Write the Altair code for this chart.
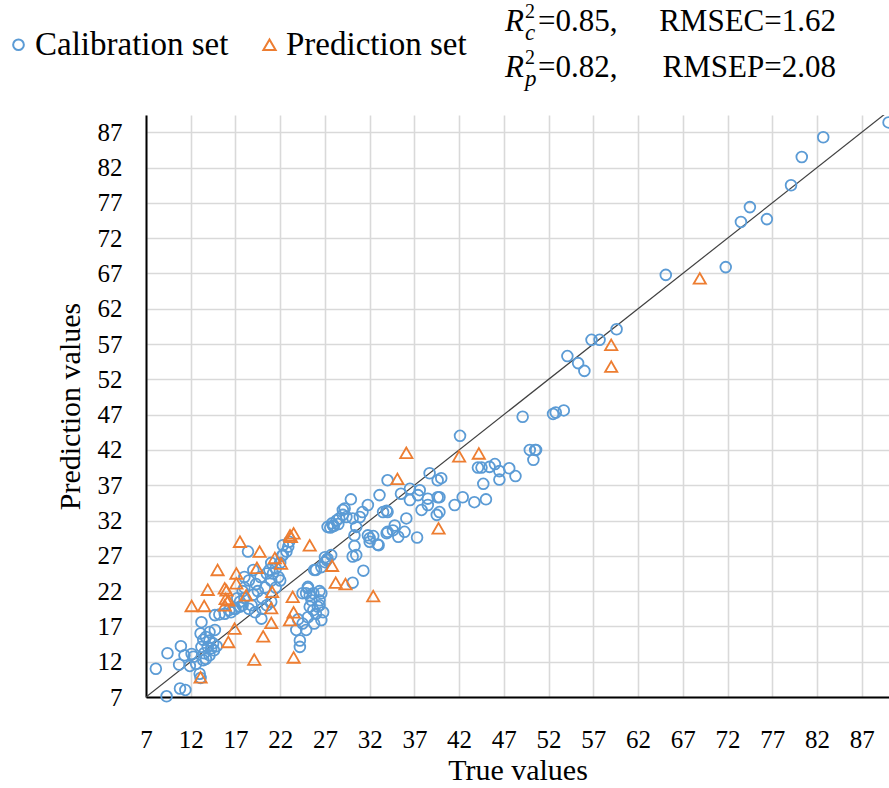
import altair as alt
import pandas as pd

# ---- data ----
cal_x = [90.0, 82.7, 80.3, 79.1, 76.4, 74.5, 73.5, 71.8, 65.1, 59.6, 57.7, 56.8, 54.1, 55.3, 56.0, 53.7, 52.8, 52.5,
         49.1, 42.1, 49.9, 50.5, 50.6, 50.3,
         44.1, 44.5, 45.4, 46.0, 46.5, 46.5, 47.6, 48.3, 44.7,
         42.4, 41.5, 43.7, 45.0, 40.0, 39.8, 39.8,
         38.7, 39.6, 35.5, 36.5, 37.6, 38.5, 39.6, 36.5, 37.4, 37.8, 38.5, 39.5, 36.1, 37.3,
         34.0, 33.1, 29.9,
         34.0, 34.6, 35.2, 35.9, 34.8,
         33.5, 33.9, 34.0,
         31.8, 31.2, 30.9, 30.1, 29.4, 29.0, 28.6,
         30.5, 30.3, 30.3, 30.1, 30.5, 31.3, 30.1,
         31.8, 32.4, 32.0, 33.0, 33.9,
         29.0, 29.2, 28.3, 27.9, 27.3, 27.6, 28.0, 28.5, 27.8,
         32.0, 32.9,
         25.8, 26.6, 27.0, 27.3, 27.7, 27.2, 27.0, 26.0,
         25.1, 26.4, 24.5,
         23.8, 24.2, 24.2, 24.5, 24.9, 25.1, 25.3, 25.5, 25.7, 25.8, 26.0, 26.2, 26.4, 26.6, 26.6, 25.1, 24.9, 25.3,
         26.4, 25.7, 24.0, 26.8,
         22.3, 22.9, 22.7, 22.3, 18.4, 23.0,
         16.5, 17.0, 17.5, 18.0, 18.0, 18.5, 18.8, 19.0, 19.3, 19.5, 19.8, 20.0, 20.3, 20.5, 20.8, 21.0, 21.2, 21.5,
         21.8, 22.0, 22.2, 20.0, 19.2, 18.5, 17.8, 17.2, 21.0, 21.5, 22.0, 20.5, 19.9, 18.0, 19.0, 21.0,
         14.7, 15.2, 15.8, 16.3, 16.9, 17.5, 17.8,
         8.1, 9.3, 9.4, 10.8, 11.4, 10.9, 10.7, 11.3, 12.1, 11.9, 12.6, 12.3, 13.0, 13.1,
         13.2, 13.1, 13.4, 13.7, 14.1, 14.7, 14.1, 13.9, 14.3, 14.5, 13.2, 13.5, 13.7, 13.4, 14.1, 14.6, 14.9]
cal_y = [88.4, 86.3, 83.5, 79.5, 74.7, 76.4, 74.3, 67.9, 66.8, 59.1, 57.6, 57.6, 55.3, 54.3, 53.2, 47.6, 47.3, 47.1,
         46.7, 44.0, 42.0, 42.0, 42.0, 40.6,
         39.5, 39.5, 39.6, 40.0, 39.0, 37.8, 39.4, 38.3, 37.2,
         35.3, 34.2, 34.6, 35.0, 38.0, 35.3, 33.2,
         38.7, 37.7, 35.8, 36.5, 36.3, 35.1, 35.3, 34.9, 35.6, 33.5, 34.2, 32.8, 32.3, 29.6,
         37.7, 35.6, 35.0,
         30.4, 30.6, 29.7, 30.4, 31.3,
         33.2, 33.4, 33.2,
         34.2, 33.2, 32.5, 32.3, 32.5, 32.8, 32.3,
         31.1, 29.9, 28.4, 26.9, 27.1, 24.9, 23.2,
         29.9, 29.8, 29.5, 28.5, 30.2,
         33.5, 33.7, 32.0, 31.3, 31.1, 31.0, 31.2, 31.5, 31.6,
         29.0, 28.6,
         25.0, 25.4, 26.1, 26.6, 27.1, 26.4, 26.8, 25.0,
         22.6, 22.0, 21.7,
         16.5, 15.0, 14.1, 17.4, 16.5, 18.3, 19.8, 20.7, 21.7, 17.4, 18.8, 19.8, 20.7, 21.7, 17.9, 22.4, 21.7, 21.4,
         20.0, 19.3, 18.0, 19.0,
         28.5, 28.3, 27.6, 27.1, 27.6, 29.0,
         19.0, 19.5, 20.5, 21.0, 22.5, 23.5, 20.0, 21.5, 23.0, 22.0, 24.0, 21.0, 22.5, 24.5, 25.0, 23.5, 24.5, 25.2,
         24.0, 26.0, 27.0, 19.5, 19.0, 19.5, 22.0, 21.0, 20.5, 22.5, 23.5, 20.0, 18.1, 24.0, 25.0, 26.0,
         18.6, 18.7, 18.8, 19.3, 19.5, 19.8, 20.0,
         11.0, 7.1, 13.2, 8.2, 8.0, 14.2, 11.6, 12.9, 13.1, 11.4, 11.7, 12.7, 10.3, 9.7,
         17.6, 16.0, 15.1, 15.5, 16.2, 16.5, 15.0, 14.1, 13.9, 14.6, 14.1, 13.2, 12.4, 12.2, 12.9, 13.6, 14.2]

pred_x = [68.9, 59.0, 59.0, 36.1, 42.0, 44.2, 35.1, 39.7, 25.3, 27.8, 28.2, 29.3, 32.4,
          23.1, 23.5, 23.2, 17.5, 19.7, 21.4, 22.1, 19.4, 15.0, 17.1, 17.1, 13.9, 15.8, 16.0, 15.9, 15.8, 16.2,
          12.1, 13.5, 18.2, 21.1, 21.0, 21.0, 23.1, 23.4, 23.5, 16.9, 16.2, 20.1, 19.1, 23.5, 13.1]
pred_y = [66.3, 56.9, 53.8, 41.6, 41.1, 41.5, 37.9, 30.9, 28.5, 25.6, 23.2, 23.0, 21.3,
          29.9, 30.2, 29.7, 29.0, 27.6, 26.7, 25.9, 25.3, 25.0, 24.5, 23.1, 22.2, 22.4, 22.1, 20.9, 20.0, 20.7,
          19.9, 19.9, 21.4, 21.9, 19.6, 17.5, 17.9, 21.2, 19.0, 16.7, 14.8, 15.6, 12.3, 12.6, 9.8]

series_names = ["Calibration set", "Prediction set"]
tick_values = [7, 12, 17, 22, 27, 32, 37, 42, 47, 52, 57, 62, 67, 72, 77, 82, 87]
line_ends = [7, 90]
stat_subs = ["c", "p"]
stat_r2 = ["=0.85,", "=0.82,"]
stat_err = ["RMSEC=1.62", "RMSEP=2.08"]

BLUE = "#5B9BD5"
ORANGE = "#ED7D31"
FONT = "Liberation Serif"
XDOM = [7, 90.05]
YDOM = [7, 89.45]

df = pd.concat([
    pd.DataFrame({"x": cal_x, "y": cal_y, "set": series_names[0]}),
    pd.DataFrame({"x": pred_x, "y": pred_y, "set": series_names[1]}),
])

xs = alt.Scale(domain=XDOM, nice=False, zero=False)
ys = alt.Scale(domain=YDOM, nice=False, zero=False)

xaxis = alt.Axis(values=tick_values, title="True values", labelPadding=30, titlePadding=3,
                 ticks=False, labelFlush=False)
yaxis = alt.Axis(values=tick_values, title="Prediction values", labelPadding=24, titlePadding=12,
                 ticks=False, labelFlush=False)

line = alt.Chart(pd.DataFrame({"x": line_ends, "y": line_ends})).mark_line(
    color="#404040", strokeWidth=1.2, clip=True
).encode(x=alt.X("x:Q", scale=xs, axis=xaxis), y=alt.Y("y:Q", scale=ys, axis=yaxis))

leg = alt.Legend(title=None, orient="none", legendX=-144, legendY=-87, direction="horizontal")
points = alt.Chart(df).mark_point(filled=False, strokeWidth=1.8, opacity=1).encode(
    x=alt.X("x:Q", scale=xs, axis=xaxis),
    y=alt.Y("y:Q", scale=ys, axis=yaxis),
    color=alt.Color("set:N", scale=alt.Scale(domain=series_names, range=[BLUE, ORANGE]), legend=leg),
    shape=alt.Shape("set:N", scale=alt.Scale(domain=series_names, range=["circle", "triangle-up"]), legend=leg),
    size=alt.Size("set:N", scale=alt.Scale(domain=series_names, range=[115, 150]), legend=None),
)

stats = pd.DataFrame({"sub": stat_subs, "r2": stat_r2, "err": stat_err, "R": ["R", "R"], "sup": ["2", "2"]})
centers = [-93, -47]
stat_layers = []
for i in range(len(stat_subs)):
    d = stats.iloc[[i]]
    yc = centers[i]
    common = dict(font=FONT, baseline="middle", color="#000")
    stat_layers += [
        alt.Chart(d).mark_text(fontSize=31, fontStyle="italic", align="left", **common)
        .encode(text="R:N", x=alt.value(359), y=alt.value(yc)),
        alt.Chart(d).mark_text(fontSize=20, align="left", **common)
        .encode(text="sup:N", x=alt.value(379), y=alt.value(yc - 10)),
        alt.Chart(d).mark_text(fontSize=23, fontStyle="italic", align="left", **common)
        .encode(text="sub:N", x=alt.value(379), y=alt.value(yc + 11)),
        alt.Chart(d).mark_text(fontSize=31, align="left", **common)
        .encode(text="r2:N", x=alt.value(392), y=alt.value(yc)),
        alt.Chart(d).mark_text(fontSize=31, align="right", **common)
        .encode(text="err:N", x=alt.value(690), y=alt.value(yc)),
    ]

chart = alt.layer(line, points, *stat_layers).properties(
    width=743, height=582,
    autosize=alt.AutoSizeParams(type="none"),
    padding={"left": 146, "top": 115, "right": 0, "bottom": 91},
).configure_view(stroke=None).configure_axis(
    labelFont=FONT, titleFont=FONT, labelFontSize=25, titleFontSize=30, labelColor="#000",
    titleColor="#000", titleFontWeight="normal", gridColor="#d9d9d9", gridWidth=1.6,
    domainColor="#000", domainWidth=2,
).configure_legend(
    labelFont=FONT, labelFontSize=33, labelColor="#000", symbolSize=75, symbolStrokeWidth=2,
    labelOffset=0, columnPadding=24, padding=0, labelLimit=400,
)

chart.save("out.html", embed_options={"renderer": "svg", "actions": False})
